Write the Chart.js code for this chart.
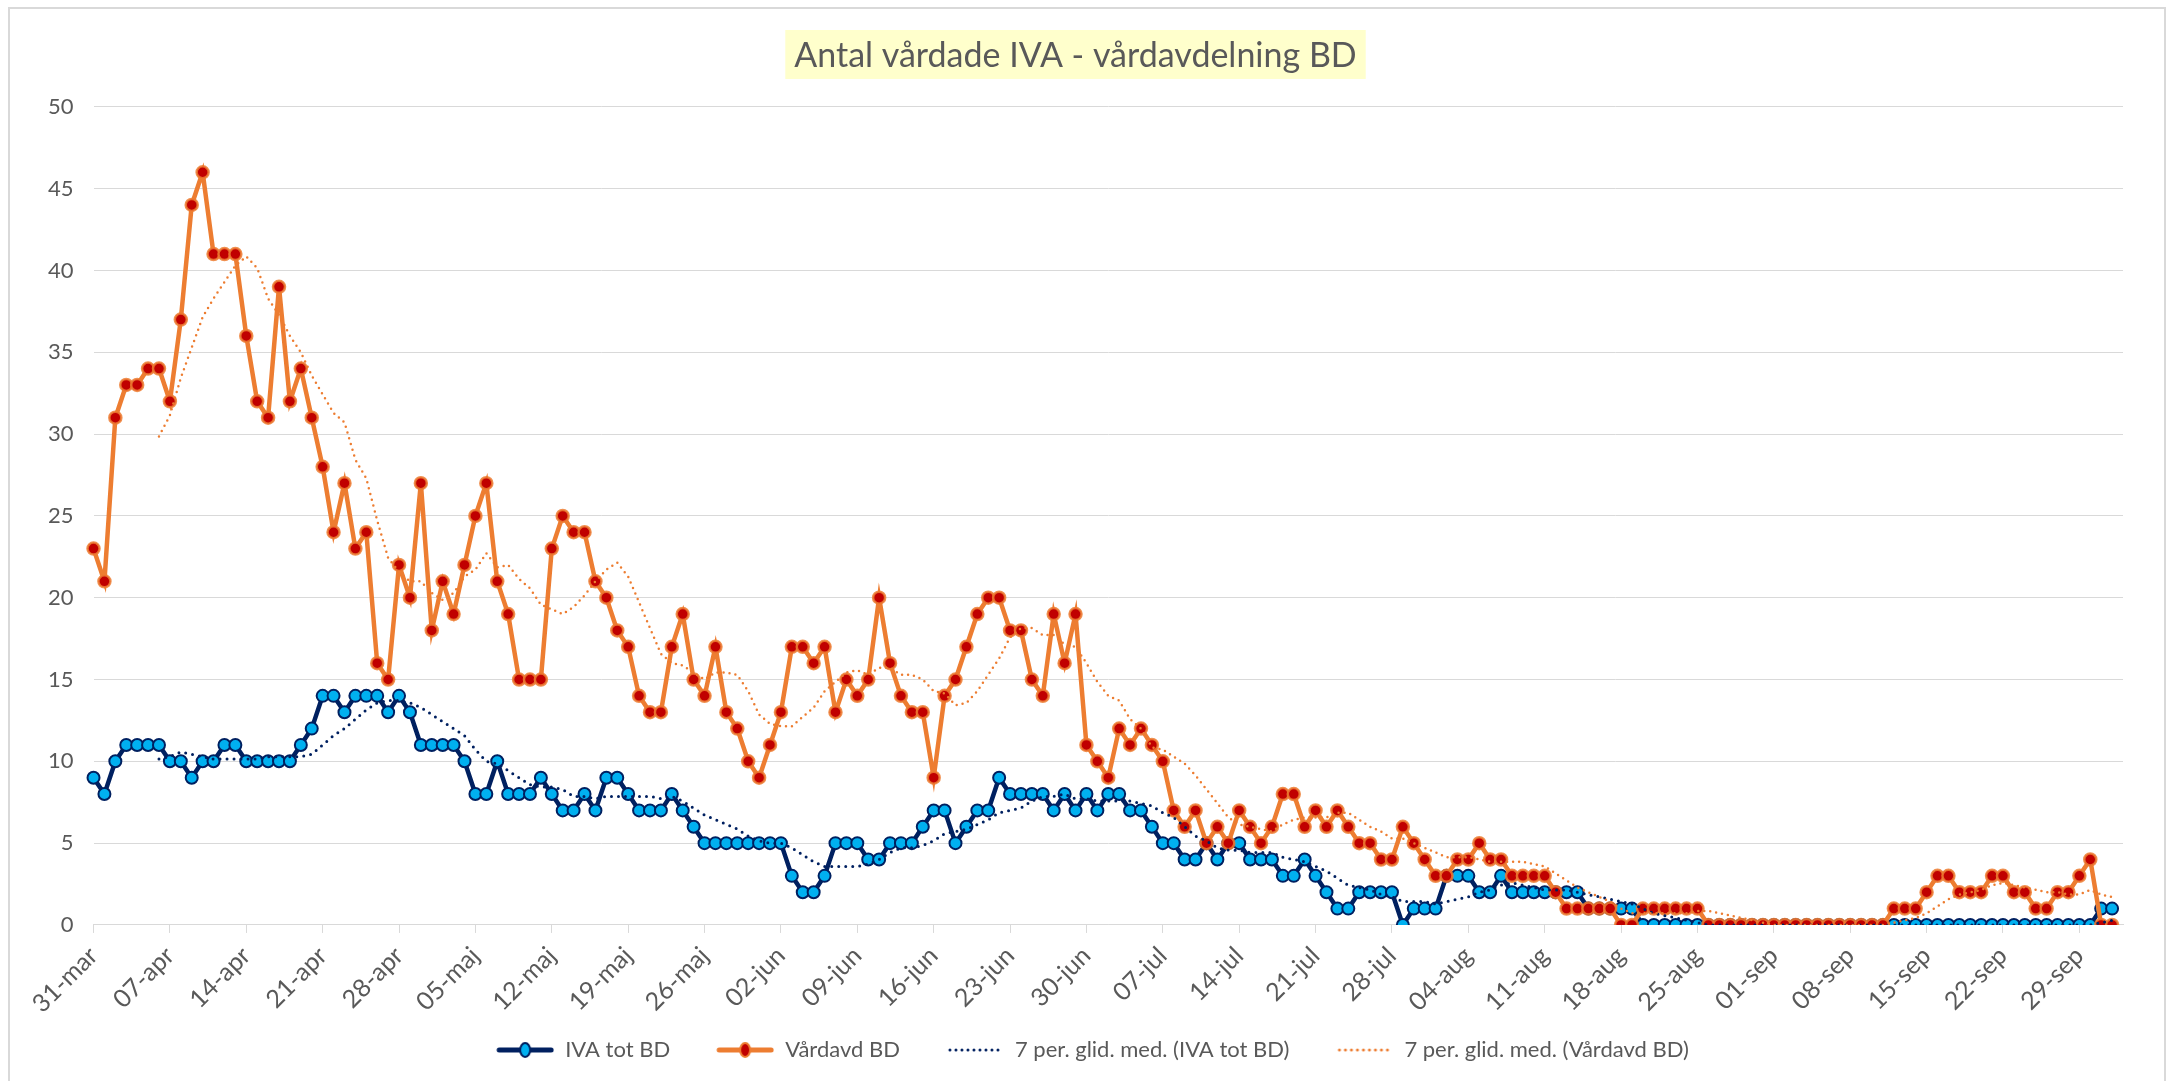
<!DOCTYPE html>
<html>
<head>
<meta charset="utf-8">
<script src="https://cdn.jsdelivr.net/npm/chart.js@4.4.1/dist/chart.umd.min.js"></script>
<style>
  html, body { margin: 0; padding: 0; background: #fff; }
  #wrap { width: 2173px; height: 1081px; position: relative; }
</style>
</head>
<body>
<div id="wrap"><canvas id="chart"></canvas></div>
<script>
// Dagar: 31-mar till 03-okt (sista dagen utan värden)
const startDay = 31;
const months = ["mar", "apr", "maj", "jun", "jul", "aug", "sep", "okt"];
const monthDays = [31, 30, 31, 30, 31, 31, 30, 31];
const numDays = 187;

// IVA tot BD, en rad per vecka (från 31-mar)
const ivaTotBD = [
  9, 8, 10, 11, 11, 11, 11,
  10, 10, 9, 10, 10, 11, 11,
  10, 10, 10, 10, 10, 11, 12,
  14, 14, 13, 14, 14, 14, 13,
  14, 13, 11, 11, 11, 11, 10,
  8, 8, 10, 8, 8, 8, 9,
  8, 7, 7, 8, 7, 9, 9,
  8, 7, 7, 7, 8, 7, 6,
  5, 5, 5, 5, 5, 5, 5,
  5, 3, 2, 2, 3, 5, 5,
  5, 4, 4, 5, 5, 5, 6,
  7, 7, 5, 6, 7, 7, 9,
  8, 8, 8, 8, 7, 8, 7,
  8, 7, 8, 8, 7, 7, 6,
  5, 5, 4, 4, 5, 4, 5,
  5, 4, 4, 4, 3, 3, 4,
  3, 2, 1, 1, 2, 2, 2,
  2, 0, 1, 1, 1, 3, 3,
  3, 2, 2, 3, 2, 2, 2,
  2, 2, 2, 2, 1, 1, 1,
  1, 1, 0, 0, 0, 0, 0,
  0, 0, 0, 0, 0, 0, 0,
  0, 0, 0, 0, 0, 0, 0,
  0, 0, 0, 0, 0, 0, 0,
  0, 0, 0, 0, 0, 0, 0,
  0, 0, 0, 0, 0, 0, 0,
  0, 0, 1, 1
];

// Vårdavd BD
const vardavdBD = [
  23, 21, 31, 33, 33, 34, 34,
  32, 37, 44, 46, 41, 41, 41,
  36, 32, 31, 39, 32, 34, 31,
  28, 24, 27, 23, 24, 16, 15,
  22, 20, 27, 18, 21, 19, 22,
  25, 27, 21, 19, 15, 15, 15,
  23, 25, 24, 24, 21, 20, 18,
  17, 14, 13, 13, 17, 19, 15,
  14, 17, 13, 12, 10, 9, 11,
  13, 17, 17, 16, 17, 13, 15,
  14, 15, 20, 16, 14, 13, 13,
  9, 14, 15, 17, 19, 20, 20,
  18, 18, 15, 14, 19, 16, 19,
  11, 10, 9, 12, 11, 12, 11,
  10, 7, 6, 7, 5, 6, 5,
  7, 6, 5, 6, 8, 8, 6,
  7, 6, 7, 6, 5, 5, 4,
  4, 6, 5, 4, 3, 3, 4,
  4, 5, 4, 4, 3, 3, 3,
  3, 2, 1, 1, 1, 1, 1,
  0, 0, 1, 1, 1, 1, 1,
  1, 0, 0, 0, 0, 0, 0,
  0, 0, 0, 0, 0, 0, 0,
  0, 0, 0, 0, 1, 1, 1,
  2, 3, 3, 2, 2, 2, 3,
  3, 2, 2, 1, 1, 2, 2,
  3, 4, 0, 0
];

const yTicks = { min: 0, max: 50, step: 5 };

// datumetiketter dd-mån
const dagar = [];
let m = 0, d = startDay;
for (let i = 0; i < numDays; i++) {
  dagar.push(String(d).padStart(2, "0") + "-" + months[m]);
  d++;
  if (d > monthDays[m]) { d = 1; m++; }
}

// 7 per. glidande medelvärde (som Excels trendlinje)
function glidMed(arr) {
  return arr.map((v, i) => {
    if (i < 6) return null;
    let s = 0;
    for (let k = i - 6; k <= i; k++) s += arr[k];
    return s / 7;
  });
}

const NAVY = "#002060";
const LIGHTBLUE = "#00B0F0";
const ORANGE = "#ED7D31";
const DARKRED = "#C00000";
const TEXT = "#595959";
const FONT = "Lato";
const GAP = 34; // luft före varje legendsymbol

// små bilder till legenden
function legendIcon(kind) {
  const c = document.createElement("canvas");
  c.width = 58 + GAP; c.height = 20;
  const g = c.getContext("2d");
  g.translate(GAP, 0);
  g.lineCap = "round";
  if (kind === "iva" || kind === "vard") {
    g.strokeStyle = kind === "iva" ? NAVY : ORANGE;
    g.lineWidth = 5;
    g.beginPath(); g.moveTo(3, 10); g.lineTo(55, 10); g.stroke();
    g.fillStyle = kind === "iva" ? LIGHTBLUE : DARKRED;
    g.strokeStyle = kind === "iva" ? NAVY : ORANGE;
    g.lineWidth = 2;
    g.beginPath(); g.ellipse(29, 10, 5, 7, 0, 0, Math.PI * 2); g.fill(); g.stroke();
  } else {
    g.strokeStyle = kind === "mivs" ? NAVY : ORANGE;
    g.lineWidth = 3;
    g.setLineDash([0, 6]);
    g.beginPath(); g.moveTo(4, 10); g.lineTo(56, 10); g.stroke();
  }
  return c;
}
const icons = [legendIcon("iva"), legendIcon("vard"), legendIcon("mivs"), legendIcon("mvard")];

const titleBg = {
  id: "titleBg",
  beforeDraw(chart) {
    const tb = chart.titleBlock;
    const ctx = chart.ctx;
    ctx.save();
    ctx.font = "34px " + FONT;
    const w = ctx.measureText(tb.options.text).width;
    const cx = (tb.left + tb.right) / 2;
    ctx.fillStyle = "#FFFFCC";
    ctx.fillRect(cx - w / 2 - 9, 30, w + 18, 49);
    ctx.restore();
  },
  afterDraw(chart) {
    const ctx = chart.ctx;
    ctx.save();
    ctx.strokeStyle = "#D9D9D9";
    ctx.lineWidth = 2;
    ctx.beginPath();
    ctx.moveTo(9, 1090); ctx.lineTo(9, 8); ctx.lineTo(2165, 8); ctx.lineTo(2165, 1090);
    ctx.stroke();
    ctx.restore();
  }
};

new Chart(document.getElementById("chart"), {
  type: "line",
  data: {
    labels: dagar,
    datasets: [
      {
        label: "IVA tot BD",
        data: ivaTotBD,
        borderColor: NAVY,
        borderWidth: 4.5,
        pointRadius: 6,
        pointBackgroundColor: LIGHTBLUE,
        pointBorderColor: NAVY,
        pointBorderWidth: 2,
        order: 3
      },
      {
        label: "Vårdavd BD",
        data: vardavdBD,
        borderColor: ORANGE,
        borderWidth: 4.5,
        pointRadius: 6,
        pointBackgroundColor: DARKRED,
        pointBorderColor: "rgba(237,125,49,0.85)",
        pointBorderWidth: 2.5,
        order: 2
      },
      {
        label: "7 per. glid. med. (IVA tot BD)",
        data: glidMed(ivaTotBD),
        borderColor: NAVY,
        borderWidth: 3,
        borderDash: [0, 7],
        borderCapStyle: "round",
        pointRadius: 0,
        order: 1
      },
      {
        label: "7 per. glid. med. (Vårdavd BD)",
        data: glidMed(vardavdBD),
        borderColor: ORANGE,
        borderWidth: 2.5,
        borderDash: [0, 6],
        borderCapStyle: "round",
        pointRadius: 0,
        order: 0
      }
    ]
  },
  options: {
    responsive: true,
    maintainAspectRatio: false,
    animation: false,
    layout: { padding: { left: 28, right: 50, top: 0, bottom: 10 } },
    plugins: {
      tooltip: { enabled: false },
      title: {
        display: true,
        text: "Antal vårdade IVA - vårdavdelning BD",
        color: TEXT,
        font: { family: FONT, size: 34, weight: "normal" },
        padding: { top: 36, bottom: 30 }
      },
      legend: {
        position: "bottom",
        labels: {
          color: TEXT,
          font: { family: FONT, size: 22 },
          usePointStyle: true,
          pointStyleWidth: 58 + GAP,
          padding: 12,
          generateLabels(chart) {
            const items = Chart.defaults.plugins.legend.labels.generateLabels(chart);
            items.sort((a, b) => a.datasetIndex - b.datasetIndex);
            items.forEach(it => { it.pointStyle = icons[it.datasetIndex]; });
            return items;
          }
        }
      }
    },
    scales: {
      x: {
        offset: false,
        grid: {
          drawOnChartArea: false,
          drawTicks: true,
          tickLength: 8,
          color: ctx => (ctx.index % 7 === 0 ? "#D9D9D9" : "rgba(0,0,0,0)")
        },
        border: { display: true, color: "#D9D9D9" },
        ticks: {
          autoSkip: false,
          minRotation: 45,
          maxRotation: 45,
          color: TEXT,
          font: { family: FONT, size: 25 },
          padding: 8,
          callback: function (val, i) {
            return i % 7 === 0 ? this.getLabelForValue(val) : "";
          }
        }
      },
      y: {
        min: yTicks.min,
        max: yTicks.max,
        grid: { color: "#D9D9D9", drawTicks: false },
        border: { display: false },
        ticks: {
          stepSize: yTicks.step,
          color: TEXT,
          font: { family: FONT, size: 22 },
          padding: 20
        }
      }
    }
  },
  plugins: [titleBg]
});
</script>
</body>
</html>
